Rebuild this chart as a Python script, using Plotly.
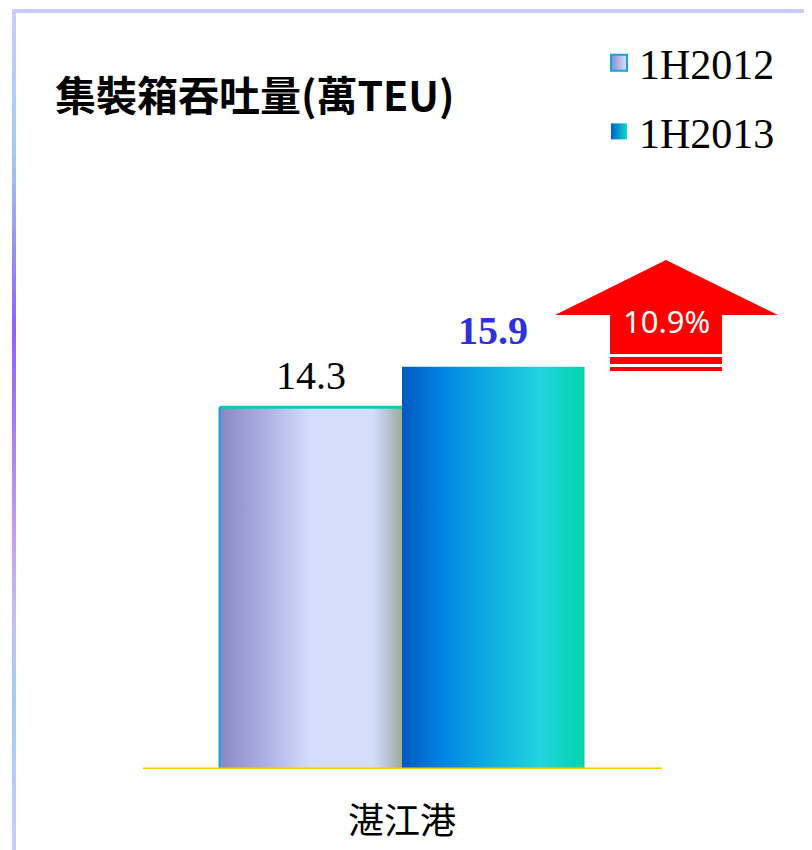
import plotly.graph_objects as go

# ---------------- data ----------------
categories = ["湛江港"]
series_names = ["1H2012", "1H2013"]
values_2012 = [14.3]
values_2013 = [15.9]
growth_label = "10.9%"
title_text = "集裝箱吞吐量(萬TEU)"

OFF = 8                      # page body margin of the browser
W, H = 812 - OFF, 850 - OFF
BASE_PX = 769 - OFF          # baseline position inside the figure
MB = H - BASE_PX
PLOT_H = BASE_PX
PX_PER_UNIT = 25.3
BAR_PX = 182.5
CENTER_PX = 402 - OFF

x_lo = -CENTER_PX / BAR_PX
x_hi = (W - CENTER_PX) / BAR_PX
y_hi = PLOT_H / PX_PER_UNIT


def px(xp):
    """page x pixel -> paper coordinate"""
    return (xp - OFF) / W


def py(yp):
    """page y pixel -> paper coordinate (plot area height based)"""
    return 1 - (yp - OFF) / PLOT_H


grad_2012 = [[0, "#8888C4"], [0.25, "#ACB0E2"], [0.5, "#D4DEFC"],
             [0.84, "#D4DEFC"], [0.91, "#BAC6DA"], [1, "#9CAC9C"]]
grad_2013 = [[0, "#0058C0"], [0.22, "#0084E4"], [0.5, "#10B0E0"],
             [0.76, "#22D4E0"], [1, "#00D4A8"]]

fig = go.Figure()

for i, cat in enumerate(categories):
    v1 = values_2012[i]
    v2 = values_2013[i]
    c = i
    fig.add_trace(go.Scatter(
        x=[c - 1, c - 1, c, c, c - 1], y=[0, v1, v1, 0, 0],
        fill="toself", mode="lines", line=dict(width=0),
        fillgradient=dict(type="horizontal", colorscale=grad_2012),
        showlegend=False, hoverinfo="skip"))
    fig.add_trace(go.Scatter(
        x=[c - 1, c], y=[v1, v1], mode="lines",
        line=dict(color="#00D0B0", width=3), showlegend=False, hoverinfo="skip"))
    fig.add_trace(go.Scatter(
        x=[c - 1, c - 1], y=[0, v1], mode="lines",
        line=dict(color="#10A8D8", width=2), showlegend=False, hoverinfo="skip"))
    fig.add_trace(go.Scatter(
        x=[c, c, c + 1, c + 1, c], y=[0, v2, v2, 0, 0],
        fill="toself", mode="lines", line=dict(width=0),
        fillgradient=dict(type="horizontal", colorscale=grad_2013),
        showlegend=False, hoverinfo="skip"))
    fig.add_annotation(x=c - 0.5, y=v1, text=f"{v1:.1f}", showarrow=False,
                       yanchor="middle", yshift=32,
                       font=dict(family="Liberation Serif", size=40, color="#000000"))
    fig.add_annotation(x=c + 0.5, y=v2, text=f"<b>{v2:.1f}</b>", showarrow=False,
                       yanchor="middle", yshift=36,
                       font=dict(family="Liberation Serif", size=40, color="#3030E0"))

# legend entries
fig.add_trace(go.Scatter(
    x=[None], y=[None], mode="markers", name=series_names[0], legendgroup="a",
    marker=dict(symbol="square", size=16, color="#8C8CC8",
                gradient=dict(type="horizontal", color="#D8E0FF"),
                line=dict(color="#10A8D8", width=2))))
fig.add_trace(go.Scatter(
    x=[None], y=[None], mode="markers", name=series_names[1], legendgroup="b",
    marker=dict(symbol="square", size=16, color="#0060C8",
                gradient=dict(type="horizontal", color="#10D8D0"),
                line=dict(width=0))))

shapes = []
# baseline
shapes.append(dict(type="line", xref="paper", yref="y", x0=px(143), x1=px(662),
                   y0=0, y1=0, line=dict(color="#FFC800", width=3)))
# frame: top line
shapes.append(dict(type="line", xref="paper", yref="paper", x0=px(12), x1=px(812),
                   y0=py(11), y1=py(11), line=dict(color="#C8CCFF", width=4)))
# frame: left line with vertical colour gradient (decorative segments)
stops = [(11, (200, 204, 255)), (150, (160, 204, 255)), (330, (144, 96, 255)),
         (550, (200, 160, 255)), (620, (192, 192, 255)), (700, (160, 204, 255)),
         (850, (200, 204, 255))]
seg = 6
ypos = 11
while ypos < 850:
    y2 = min(ypos + seg, 850)
    mid = (ypos + y2) / 2
    for k in range(len(stops) - 1):
        if stops[k][0] <= mid <= stops[k + 1][0]:
            t = (mid - stops[k][0]) / (stops[k + 1][0] - stops[k][0])
            col = tuple(int(round(stops[k][1][j] + t * (stops[k + 1][1][j] - stops[k][1][j]))) for j in range(3))
            break
    shapes.append(dict(type="rect", xref="paper", yref="paper", x0=px(12), x1=px(16),
                       y0=py(y2), y1=py(ypos), line=dict(width=0),
                       fillcolor="rgb(%d,%d,%d)" % col))
    ypos = y2

# growth arrow (decorative)
arrow_pts = [(666, 260), (778, 315), (722, 315), (722, 354), (610, 354), (610, 315), (555, 315)]
path = "M " + " L ".join(f"{px(a)},{py(b)}" for a, b in arrow_pts) + " Z"
shapes.append(dict(type="path", xref="paper", yref="paper", path=path,
                   fillcolor="#FF0000", line=dict(width=0)))
for y0s, y1s in [(357, 364), (367, 371)]:
    shapes.append(dict(type="rect", xref="paper", yref="paper", x0=px(610), x1=px(722),
                       y0=py(y1s), y1=py(y0s), fillcolor="#FF0000", line=dict(width=0)))

fig.add_annotation(xref="paper", yref="paper", x=px(666), y=py(321), text=growth_label,
                   showarrow=False, xanchor="center", yanchor="middle",
                   font=dict(family="Noto Sans", size=31, color="#FFFFFF"))

fig.update_layout(
    width=W, height=H,
    margin=dict(l=0, r=0, t=0, b=MB),
    paper_bgcolor="#FFFFFF", plot_bgcolor="#FFFFFF",
    shapes=shapes,
    title=dict(text=f"<b>{title_text}</b>", x=px(55), xanchor="left",
               y=1 - (97 - OFF) / H, yanchor="middle",
               font=dict(family="Noto Sans CJK TC", size=41, color="#000000")),
    xaxis=dict(range=[x_lo, x_hi], showgrid=False, zeroline=False, showline=False,
               tickvals=[0], ticktext=categories, ticks="", automargin=False,
               ticklabelstandoff=28,
               tickfont=dict(family="Noto Sans CJK TC", size=36, color="#000000"),
               fixedrange=True),
    yaxis=dict(range=[0, y_hi], visible=False, fixedrange=True),
    legend=dict(x=px(599), xanchor="left", y=py(29), yanchor="top",
                font=dict(family="Liberation Serif", size=42, color="#000000"),
                tracegroupgap=11, bgcolor="rgba(0,0,0,0)", itemclick=False),
    showlegend=True,
)

fig.write_html("out.html")
